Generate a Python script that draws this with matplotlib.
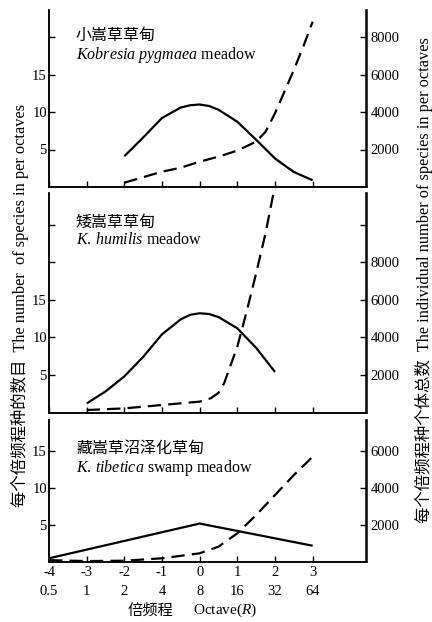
import matplotlib
matplotlib.use("Agg")
import matplotlib.pyplot as plt

plt.rcParams['font.family'] = ['Liberation Serif', 'Noto Sans CJK SC']
plt.rcParams['mathtext.fontset'] = 'custom'
plt.rcParams['mathtext.rm'] = 'Liberation Serif'
plt.rcParams['mathtext.it'] = 'Liberation Serif:italic'

# ---------------- data ----------------
octave_ticks = [-4, -3, -2, -1, 0, 1, 2, 3]
octave_bins = ["0.5", "1", "2", "4", "8", "16", "32", "64"]

# Kobresia pygmaea meadow
kp_sp_x = [-2, -1.5, -1, -0.5, -0.25, 0, 0.25, 0.5, 1, 1.5, 2, 2.5, 3]
kp_sp_y = [4.1, 6.6, 9.2, 10.6, 10.9, 11.0, 10.8, 10.3, 8.7, 6.3, 3.8, 2.0, 0.9]
kp_ind_x = [-2, -1, -0.5, 0, 0.5, 1, 1.5, 1.75, 2, 2.25, 2.5, 2.75, 3]
kp_ind_y = [230, 816, 1030, 1350, 1620, 1940, 2420, 2950, 3930, 5080, 6240, 7480, 8820]

# K. humilis meadow
kh_sp_x = [-3, -2.5, -2, -1.5, -1, -0.5, -0.25, 0, 0.25, 0.5, 1, 1.5, 2]
kh_sp_y = [1.2, 2.8, 4.8, 7.4, 10.4, 12.4, 13.0, 13.2, 13.1, 12.7, 11.2, 8.6, 5.4]
kh_ind_x = [-3, -2, -1, 0, 0.3, 0.5, 0.65, 0.8, 1, 1.25, 1.5, 1.75, 1.96]
kh_ind_y = [130, 220, 400, 580, 760, 1050, 1560, 2400, 3510, 5400, 7420, 9560, 11690]

# K. tibetica swamp meadow
kt_sp_x = [-4, 0, 3]
kt_sp_y = [0.5, 5.2, 2.2]
kt_ind_x = [-4, -3, -2, -1, 0, 0.5, 1, 1.5, 2, 2.5, 3]
kt_ind_y = [100, 50, 70, 200, 470, 830, 1550, 2540, 3620, 4700, 5690]

panels = [
    dict(name_cn="小嵩草草甸", name_en=r"$\it{Kobresia}$ $\it{pygmaea}$ meadow",
         sx=kp_sp_x, sy=kp_sp_y, ix=kp_ind_x, iy=kp_ind_y,
         ylim=(0, 23.6), yticks=[5, 10, 15, 20], ylabels=["5", "10", "15", ""],
         rlim=(0, 9440), rticks=[2000, 4000, 6000, 8000],
         rlabels=["2000", "4000", "6000", "8000"],
         cn_y=0.859, en_y=0.746),
    dict(name_cn="矮嵩草草甸", name_en=r"$\it{K.\,humilis}$ meadow",
         sx=kh_sp_x, sy=kh_sp_y, ix=kh_ind_x, iy=kh_ind_y,
         ylim=(0, 29.2), yticks=[5, 10, 15, 20, 25], ylabels=["5", "10", "15", "", ""],
         rlim=(0, 11700), rticks=[2000, 4000, 6000, 8000, 10000],
         rlabels=["2000", "4000", "6000", "8000", ""],
         cn_y=0.868, en_y=0.786),
    dict(name_cn="藏嵩草沼泽化草甸", name_en=r"$\it{K.\,tibetica}$ swamp meadow",
         sx=kt_sp_x, sy=kt_sp_y, ix=kt_ind_x, iy=kt_ind_y,
         ylim=(0, 19.2), yticks=[5, 10, 15], ylabels=["5", "10", "15"],
         rlim=(0, 7680), rticks=[2000, 4000, 6000],
         rlabels=["2000", "4000", "6000"],
         cn_y=0.803, en_y=0.662),
]

W, H = 432, 622
fig = plt.figure(figsize=(W / 100, H / 100), dpi=100)

# axes boxes in pixel (top, bottom)
boxes = [(10, 187), (193, 412.5), (420, 562)]
left_px, right_px = 49, 366.5

for i, (p, (top, bot)) in enumerate(zip(panels, boxes)):
    ax = fig.add_axes([left_px / W, 1 - bot / H, (right_px - left_px) / W, (bot - top) / H])
    ax2 = ax.twinx()
    for a in (ax, ax2):
        a.spines['top'].set_visible(False)
        for s in a.spines.values():
            s.set_linewidth(1.1)
    ax.set_xlim(-4, 4.43)
    ax.set_ylim(*p['ylim'])
    ax2.set_ylim(*p['rlim'])
    ax.set_xticks(octave_ticks)
    if i == 2:
        ax.set_xticklabels([f"{t}\n{b}" for t, b in zip(octave_ticks, octave_bins)],
                           linespacing=1.6)
    else:
        ax.set_xticklabels([])
    ax.set_yticks(p['yticks'])
    ax.set_yticklabels(p['ylabels'])
    ax2.set_yticks(p['rticks'])
    ax2.set_yticklabels(p['rlabels'])
    ax.tick_params(axis='x', direction='in', length=4, width=1, labelsize=10.5, pad=3)
    ax.tick_params(axis='y', direction='in', length=4, width=1, labelsize=10.5, pad=1.5)
    ax2.tick_params(axis='y', direction='in', length=4, width=1, labelsize=10.5, pad=3)

    ax.plot(p['sx'], p['sy'], color='black', lw=1.6, solid_capstyle='butt',
            solid_joinstyle='round', clip_on=False)
    ax2.plot(p['ix'], p['iy'], color='black', lw=1.6, dashes=(6, 3.2), clip_on=True)

    ax.text(0.085, p['cn_y'], p['name_cn'], transform=ax.transAxes, fontsize=11.5,
            family=['Noto Sans CJK SC'], va='center', ha='left')
    ax.text(0.085, p['en_y'], p['name_en'], transform=ax.transAxes, fontsize=11.5,
            va='center', ha='left')

fig.text(20 / W, 1 - 305 / H, "每个倍频程种的数目  The number  of species in per octaves",
         rotation=90, ha='center', va='center', fontsize=11.8)
fig.text(424 / W, 1 - 280 / H,
         "每个倍频程种个体总数  The individual number of species in per octaves",
         rotation=90, ha='center', va='center', fontsize=11.8)
fig.text(150 / W, 1 - 610 / H, "倍频程", ha='center', va='center',
         fontsize=11, family=['Noto Sans CJK SC'])
fig.text(225 / W, 1 - 610 / H, "Octave($\\it{R}$)", ha='center', va='center',
         fontsize=11)

fig.savefig("out.png", dpi=100)
